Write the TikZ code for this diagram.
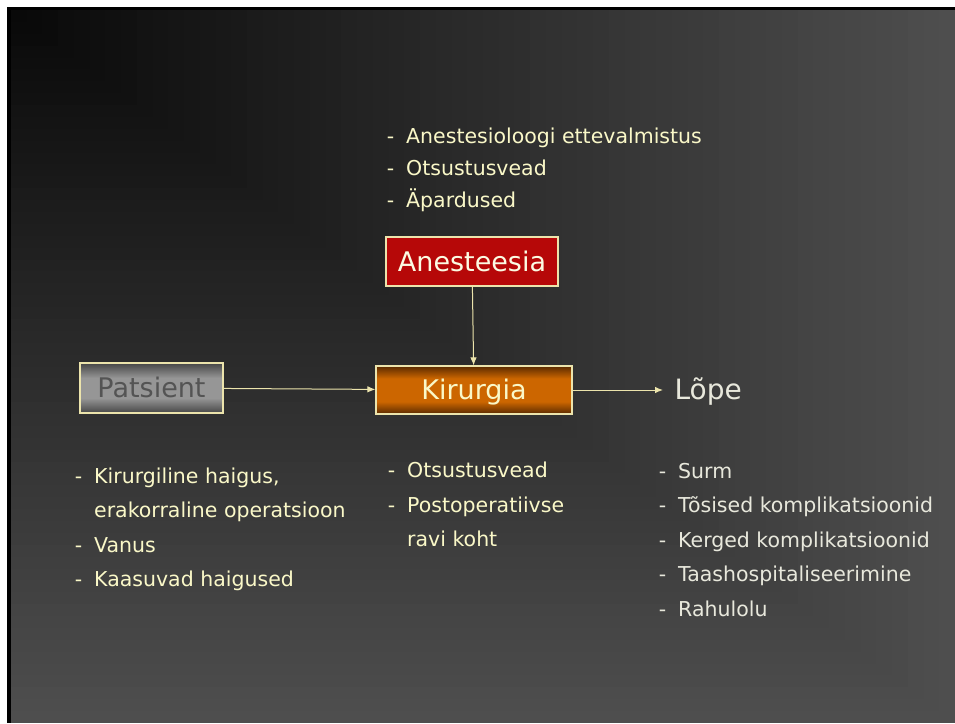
\documentclass[tikz,border=0pt]{standalone}
\usepackage{fontspec}
\setmainfont{DejaVu Sans}
\usetikzlibrary{positioning,arrows.meta}
\definecolor{bgnear}{RGB}{8,8,8}
\definecolor{bgfar}{RGB}{78,78,78}
\definecolor{cream}{RGB}{250,248,200}
\definecolor{paleline}{RGB}{236,228,172}
\definecolor{outtext}{RGB}{232,232,220}
\definecolor{anred}{RGB}{182,8,8}
\definecolor{kirdark}{RGB}{90,42,0}
\definecolor{kirorange}{RGB}{204,102,0}
\definecolor{patdark}{RGB}{70,70,70}
\definecolor{patlight}{RGB}{150,150,150}
\definecolor{pattext}{RGB}{84,84,84}
\pgfdeclareverticalshading{kirshade}{100bp}{color(0bp)=(kirdark); color(25bp)=(kirdark);
  color(38bp)=(kirorange); color(62bp)=(kirorange); color(75bp)=(kirdark); color(100bp)=(kirdark)}
\pgfdeclareverticalshading{patshade}{100bp}{color(0bp)=(patdark); color(25bp)=(patdark);
  color(40bp)=(patlight); color(60bp)=(patlight); color(75bp)=(patdark); color(100bp)=(patdark)}
\newcommand{\itemdash}{\llap{-\hspace{12pt}}}
\tikzset{
mybox/.style={
  draw=paleline,
  line width=1.2pt,
  inner sep=0pt,
  text height=19.7pt,
  text depth=0pt,
  font=\fontsize{27}{32}\selectfont
  },
myitem/.style={
  inner sep=0pt,
  anchor=base west,
  text=cream,
  font=\fontsize{20.5}{24}\selectfont
  },
myarrow/.style={
  draw=paleline,
  line width=1pt,
  ->
  }
}
\begin{document}
\begin{tikzpicture}[x=1pt,y=-1pt,>={Latex[length=8pt,width=6.5pt]}]
\fill[white] (0,0) rectangle (955,723);
\fill[black] (7,7) rectangle (955,723);
\foreach \i in {0,...,59}{
  \pgfmathsetmacro{\t}{1-\i/60}
  \pgfmathsetmacro{\p}{100*\t}
  \fill[bgfar!\p!bgnear] (11,10) rectangle ({11+944*\t},{10+713*\t});
}

\node[mybox,fill=anred,text=cream!50!white,minimum width=172pt,minimum height=49pt]
  at (472,261.5) (anest) {Anesteesia};
\node[mybox,shade,shading=kirshade,text=cream,minimum width=196pt,minimum height=48pt]
  at (474,390) (kirurgia) {Kirurgia};
\node[mybox,shade,shading=patshade,text=pattext,minimum width=143pt,minimum height=50pt]
  at (151.5,388) (patsient) {Patsient};
\node[mybox,draw=none,anchor=west,inner xsep=11pt,text=outtext,font=\fontsize{28}{32}\selectfont]
  at (663,390) (lope) {Lõpe};

\foreach \y/\txt [count=\i] in {143/\itemdash Anestesioloogi ettevalmistus,
  175/\itemdash Otsustusvead, 207/\itemdash Äpardused}
  \node[myitem] at (406,\y) (anlist-\i) {\txt};
\foreach \y/\txt [count=\i] in {{483/\itemdash Kirurgiline haigus,},
  517/erakorraline operatsioon, 552/\itemdash Vanus, 586/\itemdash Kaasuvad haigused}
  \node[myitem] at (94,\y) (patlist-\i) {\txt};
\foreach \y/\txt [count=\i] in {477/\itemdash Otsustusvead,
  512/\itemdash Postoperatiivse, 546/ravi koht}
  \node[myitem] at (407,\y) (kirlist-\i) {\txt};
\foreach \y/\txt [count=\i] in {478/\itemdash Surm, 512/\itemdash Tõsised komplikatsioonid,
  547/\itemdash Kerged komplikatsioonid, 581/\itemdash Taashospitaliseerimine,
  616/\itemdash Rahulolu}
  \node[myitem,text=outtext] at (678,\y) (lopelist-\i) {\txt};

\draw[myarrow]
  (patsient) -- (kirurgia);
\draw[myarrow]
  (anest) -- (kirurgia);
\draw[myarrow]
  (kirurgia) -- (lope);
\end{tikzpicture}
\end{document}
